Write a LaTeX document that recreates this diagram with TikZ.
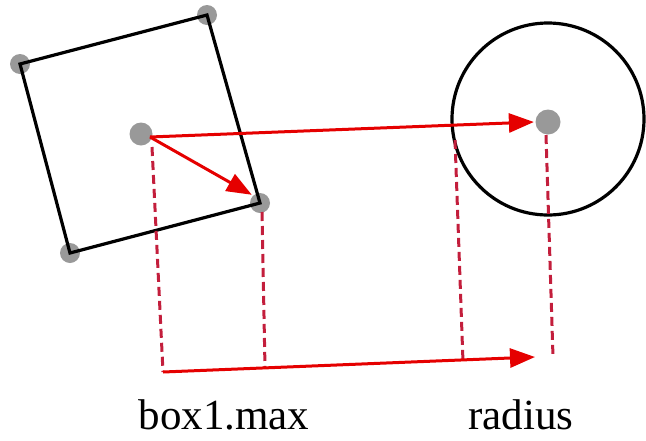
\documentclass[tikz,border=0pt]{standalone}
\usepackage{fontspec}
\setmainfont{Liberation Serif}
\usetikzlibrary{arrows.meta}
\definecolor{dashred}{RGB}{195,30,60}
\begin{document}
\begin{tikzpicture}[x=1pt,y=-1pt,line width=3.2pt,
  dot/.style={circle,fill=gray!80,inner sep=0pt,minimum size=20pt},
  ptr/.style={red!90!black,line width=3pt,-{Triangle[length=25pt,width=19pt]}},
  proj/.style={dashred,line width=3pt,dash pattern=on 9pt off 5pt},
  lbl/.style={font=\fontsize{43}{48}\selectfont,anchor=base,inner sep=0pt}]
\useasboundingbox (0,0) rectangle (646,440);
% box corners and centre
\node[dot] (tr) at (207,15) {};
\node[dot] (tl) at (20,64) {};
\node[dot] (bl) at (70,253) {};
\node[dot] (br) at (260,203) {};
\node[dot,minimum size=23pt] (bc) at (141,134) {};
\draw (tr.center)--(tl.center)--(bl.center)--(br.center)--cycle;
% sphere
\node[dot,minimum size=25pt] (cc) at (548,122) {};
\draw (548,119) circle (96);
% projections
\coordinate (s) at (150,137);
\coordinate (p1) at (163,372); \coordinate (p2) at (265,368);
\coordinate (p3) at (463,362); \coordinate (p4) at (553,357);
\coordinate (q3) at (455,140); \coordinate (q4) at (546,135);
\draw[proj] (152,147) -- (p1); \draw[proj] (262,212) -- (p2);
\draw[proj] (q3) -- (p3); \draw[proj] (q4) -- (p4);
\draw[ptr] (s) -- (cc.west);
\draw[ptr] (s) -- (br.north west);
\draw[ptr] (p1) -- (535,357);
\node[lbl] (lbox) at (224,429) {box1.max};
\node[lbl] (lrad) at (521,429) {radius};
\end{tikzpicture}
\end{document}
